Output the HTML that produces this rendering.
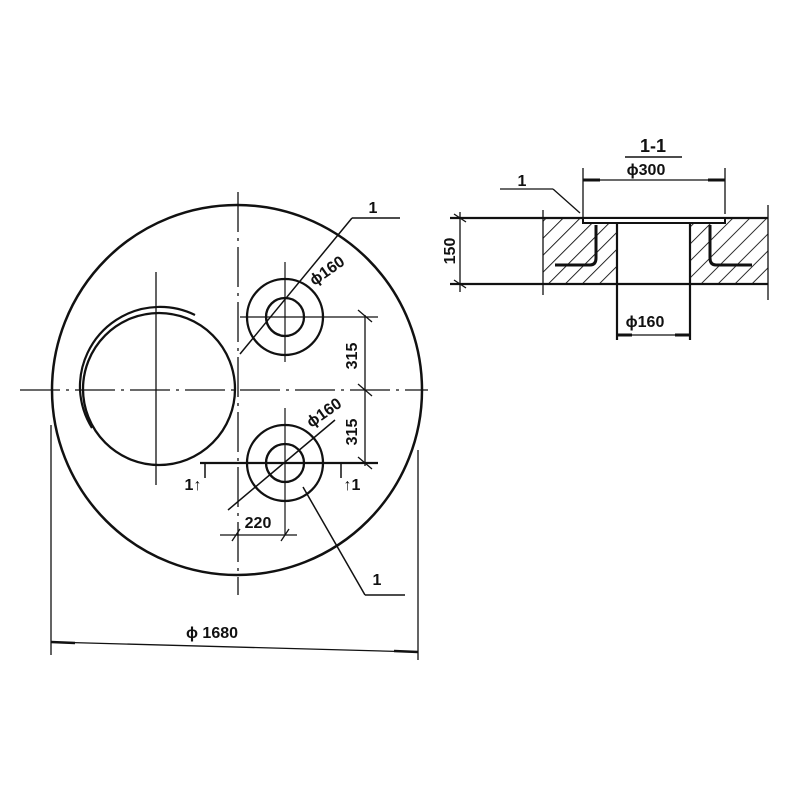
<!DOCTYPE html>
<html><head><meta charset="utf-8"><style>
html,body{margin:0;padding:0;background:#fff;width:800px;height:800px;overflow:hidden}
text{font-family:"Liberation Sans",sans-serif;font-weight:bold;fill:#111}
</style></head><body>
<svg width="800" height="800" viewBox="0 0 800 800" xmlns="http://www.w3.org/2000/svg">
<defs>
<pattern id="hatch" width="12" height="12" patternUnits="userSpaceOnUse" patternTransform="rotate(45)">
<line x1="0" y1="0" x2="0" y2="12" stroke="#111" stroke-width="1.8"/>
</pattern>
</defs>
<g fill="none" stroke="#111">
<circle cx="237" cy="390" r="185" stroke-width="2.5"/>
<!-- big hole -->
<circle cx="159" cy="389" r="76" stroke-width="2.3"/>
<path d="M195 315 A80 80 0 0 0 80 390 A80 80 0 0 0 92 428" stroke-width="2.2"/>
<line x1="20" y1="390" x2="428" y2="390" stroke-width="1.3" stroke-dasharray="40 6 3 6"/>
<line x1="238" y1="192" x2="238" y2="595" stroke-width="1.3" stroke-dasharray="40 6 3 6"/>
<line x1="156" y1="272" x2="156" y2="485" stroke-width="1.3"/>
<circle cx="285" cy="317" r="38" stroke-width="2.3"/>
<circle cx="285" cy="317" r="19" stroke-width="2.3"/>
<path d="M276 300 A19 19 0 0 0 280 335" stroke-width="2"/>
<line x1="240" y1="317" x2="378" y2="317" stroke-width="1.2"/>
<line x1="285" y1="262" x2="285" y2="362" stroke-width="1.2"/>
<circle cx="285" cy="463" r="38" stroke-width="2.3"/>
<circle cx="285" cy="463" r="19" stroke-width="2.3"/>
<path d="M276 446 A19 19 0 0 0 280 481" stroke-width="2"/>
<line x1="285" y1="408" x2="285" y2="535" stroke-width="1.2"/>
<line x1="200" y1="463" x2="378" y2="463" stroke-width="2.2"/>
<line x1="205" y1="463" x2="205" y2="478" stroke-width="1.5"/>
<line x1="341" y1="463" x2="341" y2="478" stroke-width="1.5"/>
<line x1="240" y1="354" x2="352" y2="218" stroke-width="1.5"/>
<line x1="352" y1="218" x2="400" y2="218" stroke-width="1.5"/>
<line x1="228" y1="510" x2="335" y2="420" stroke-width="1.5"/>
<line x1="303" y1="487" x2="365" y2="595" stroke-width="1.5"/>
<line x1="365" y1="595" x2="405" y2="595" stroke-width="1.5"/>
<line x1="365" y1="315" x2="365" y2="466" stroke-width="1.3"/>
<line x1="358" y1="310" x2="372" y2="322" stroke-width="1.3"/>
<line x1="358" y1="384" x2="372" y2="396" stroke-width="1.3"/>
<line x1="358" y1="457" x2="372" y2="469" stroke-width="1.3"/>
<line x1="220" y1="535" x2="297" y2="535" stroke-width="1.3"/>
<line x1="232" y1="541" x2="240" y2="529" stroke-width="1.3"/>
<line x1="281" y1="541" x2="289" y2="529" stroke-width="1.3"/>
<line x1="51" y1="425" x2="51" y2="655" stroke-width="1.3"/>
<line x1="418" y1="450" x2="418" y2="660" stroke-width="1.3"/>
<line x1="51" y1="642" x2="418" y2="652" stroke-width="1.3"/>
<line x1="51" y1="642" x2="75" y2="643" stroke-width="2.5"/>
<line x1="394" y1="651" x2="418" y2="652" stroke-width="2.5"/>

<rect x="543" y="218" width="74" height="66" fill="url(#hatch)" stroke="none"/>
<rect x="690" y="218" width="78" height="66" fill="url(#hatch)" stroke="none"/>
<line x1="450" y1="218" x2="768" y2="218" stroke-width="2.2"/>
<line x1="450" y1="284" x2="768" y2="284" stroke-width="2.2"/>
<line x1="543" y1="210" x2="543" y2="295" stroke-width="1.3"/>
<line x1="617" y1="218" x2="617" y2="340" stroke-width="2.2"/>
<line x1="690" y1="218" x2="690" y2="340" stroke-width="2.2"/>
<line x1="768" y1="205" x2="768" y2="300" stroke-width="1.3"/>
<rect x="583" y="218" width="142" height="5" fill="#fff" stroke-width="2"/>
<path d="M596 225 V258 Q596 265 590 265 H555" stroke-width="3"/>
<path d="M710 225 V258 Q710 265 716 265 H752" stroke-width="3"/>
<line x1="460" y1="212" x2="460" y2="292" stroke-width="1.3"/>
<line x1="454" y1="214" x2="466" y2="222" stroke-width="1.3"/>
<line x1="454" y1="280" x2="466" y2="288" stroke-width="1.3"/>
<line x1="583" y1="168" x2="583" y2="218" stroke-width="1.3"/>
<line x1="725" y1="168" x2="725" y2="214" stroke-width="1.3"/>
<line x1="583" y1="180" x2="725" y2="180" stroke-width="1.3"/>
<line x1="583" y1="180" x2="600" y2="180" stroke-width="3"/>
<line x1="708" y1="180" x2="725" y2="180" stroke-width="3"/>
<line x1="617" y1="335" x2="690" y2="335" stroke-width="1.3"/>
<line x1="617" y1="335" x2="632" y2="335" stroke-width="3"/>
<line x1="675" y1="335" x2="690" y2="335" stroke-width="3"/>
<line x1="625" y1="157" x2="682" y2="157" stroke-width="1.5"/>
<line x1="500" y1="189" x2="553" y2="189" stroke-width="1.3"/>
<line x1="553" y1="189" x2="580" y2="213" stroke-width="1.3"/>
</g>
<g font-size="16">
<text x="653" y="152" text-anchor="middle" font-size="18">1-1</text>
<text x="646" y="175" text-anchor="middle">ϕ300</text>
<text x="645" y="327" text-anchor="middle">ϕ160</text>
<text x="522" y="186" text-anchor="middle">1</text>
<text transform="translate(455,251) rotate(-90)" text-anchor="middle">150</text>
<text x="373" y="213" text-anchor="middle">1</text>
<text x="377" y="585" text-anchor="middle">1</text>
<text transform="translate(330,275) rotate(-35)" text-anchor="middle">ϕ160</text>
<text transform="translate(327,417) rotate(-35)" text-anchor="middle">ϕ160</text>
<text transform="translate(357,356) rotate(-90)" text-anchor="middle">315</text>
<text transform="translate(357,432) rotate(-90)" text-anchor="middle">315</text>
<text x="258" y="528" text-anchor="middle">220</text>
<text x="212" y="638" text-anchor="middle">ϕ 1680</text>
<text x="193" y="490" text-anchor="middle">1↑</text>
<text x="352" y="490" text-anchor="middle">↑1</text>
</g>
</svg>
</body></html>
